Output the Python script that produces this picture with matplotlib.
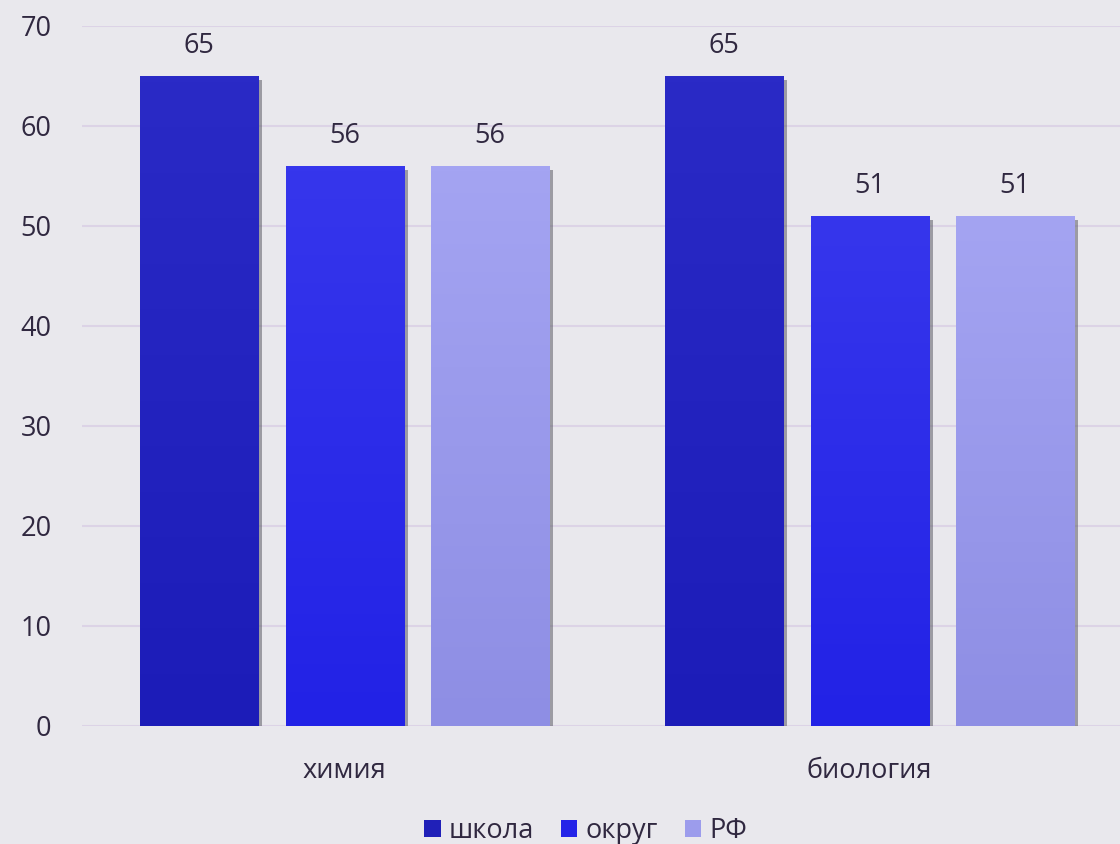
import numpy as np
import matplotlib
matplotlib.use("Agg")
import matplotlib.pyplot as plt
from matplotlib import patheffects as pe
from matplotlib.colors import LinearSegmentedColormap
from matplotlib.patches import Patch

categories = ["химия", "биология"]
series = ["школа", "округ", "РФ"]
values = {
    "школа": [65, 65],
    "округ": [56, 51],
    "РФ": [56, 51],
}
yticks = [0, 10, 20, 30, 40, 50, 60, 70]

top_colors = {"школа": "#2a2ac6", "округ": "#3636ec", "РФ": "#a4a4f2"}
bot_colors = {"школа": "#1c1cb8", "округ": "#2222e6", "РФ": "#8e8ee4"}
legend_colors = {"школа": "#2020b8", "округ": "#2424e8", "РФ": "#9c9cec"}

plt.rcParams['font.family'] = ['Open Sans', 'DejaVu Sans']
text_color = "#302840"
fs = 19.5

fig = plt.figure(figsize=(11.2, 8.44), dpi=100)
fig.patch.set_facecolor("#e9e8ed")
ax = fig.add_axes([82/1120, (844-726)/844, 1 - 82/1120, 700/844])
ax.set_facecolor("none")

x = np.arange(len(categories))
bw = 0.2248
step = 0.277

for i, s in enumerate(series):
    offs = (i - 1) * step
    cmap = LinearSegmentedColormap.from_list(s, [bot_colors[s], top_colors[s]])
    for j, v in enumerate(values[s]):
        xc = x[j] + offs
        bars = ax.bar(xc, v, width=bw, color=top_colors[s], zorder=3,
                      path_effects=[pe.SimplePatchShadow(offset=(3, -3), shadow_rgbFace="#50505a", alpha=0.5), pe.Normal()])
        grad = np.linspace(0, 1, 100).reshape(-1, 1)
        im = ax.imshow(grad, cmap=cmap, origin="lower", aspect="auto",
                       extent=[xc - bw/2, xc + bw/2, 0, v], zorder=4)
        im.set_clip_path(bars[0])
        ax.text(xc, v + 1.6, f"{v}", ha="center", va="bottom", fontsize=fs, color=text_color, zorder=5)

ax.set_xlim(-0.5, 1.477)
ax.set_ylim(0, 70)
ax.set_yticks(yticks)
ax.set_yticklabels([str(t) for t in yticks], fontsize=fs, color=text_color)
ax.yaxis.grid(True, color="#dcd3e6", linewidth=1.5, zorder=0)
ax.set_axisbelow(True)
ax.tick_params(axis="y", length=0, pad=22)
ax.tick_params(axis="x", length=0, pad=22)
ax.set_xticks(x)
ax.set_xticklabels(categories, fontsize=fs, color=text_color)
for sp in ax.spines.values():
    sp.set_visible(False)

handles = [Patch(facecolor=legend_colors[s], label=s) for s in series]
fig.legend(handles=handles, loc="lower center", bbox_to_anchor=(0.523, -0.03), ncol=3,
           frameon=False, fontsize=fs, handlelength=0.6, handleheight=0.6,
           handletextpad=0.3, columnspacing=1.0, labelcolor=text_color)

fig.savefig("out.png", dpi=100, facecolor=fig.get_facecolor())
